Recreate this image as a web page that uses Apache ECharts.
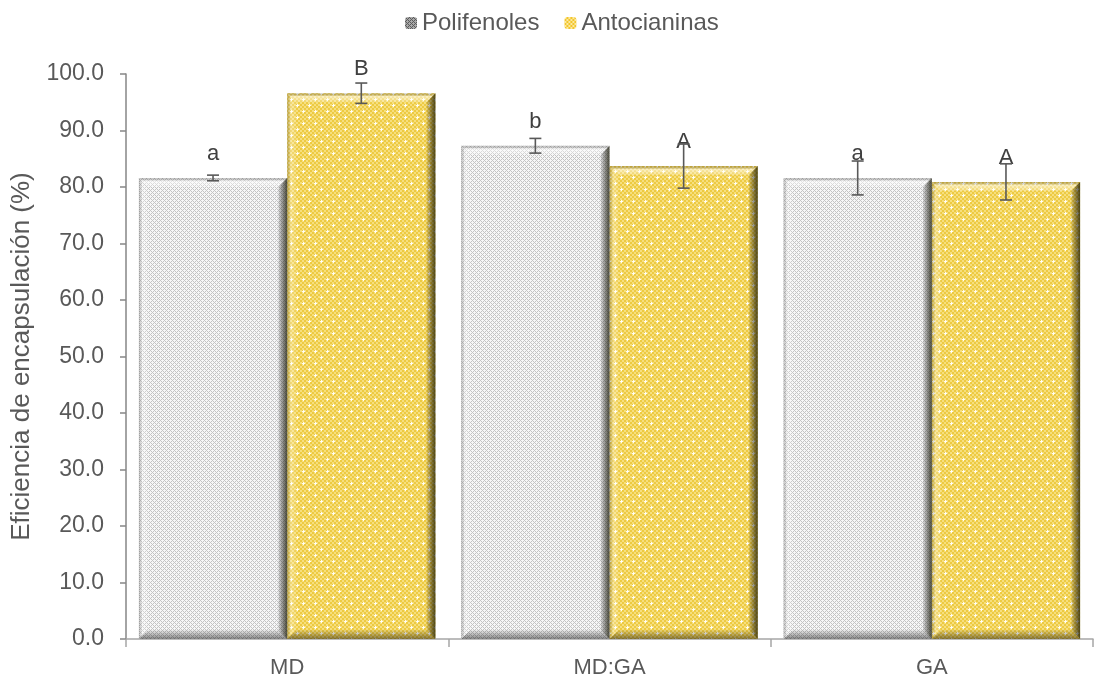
<!DOCTYPE html>
<html>
<head>
<meta charset="utf-8">
<script src="https://cdn.jsdelivr.net/npm/echarts@6/dist/echarts.min.js"></script>
<style>
  html, body { margin: 0; padding: 0; background: #ffffff; }
  #chart { width: 1102px; height: 679px; }
</style>
</head>
<body>
<div id="chart"></div>
<script>
// Encapsulation efficiency by wall material
const categories = ['MD', 'MD:GA', 'GA'];
const seriesNames = ['Polifenoles', 'Antocianinas'];
const polifenoles = [81.6, 87.3, 81.6];
const polifenolesErr = [0.5, 1.3, 3.0];
const polifenolesLetters = ['a', 'b', 'a'];
const antocianinas = [96.6, 83.7, 80.9];
const antocianinasErr = [1.8, 3.9, 3.2];
const antocianinasLetters = ['B', 'A', 'A'];
const yTicks = { min: 0, max: 100, interval: 10 };

const FONT = '"Liberation Sans", Arial, sans-serif';
const CAT_GAP = 0.08;

// Small repeating textures used as bar fills
function makeTile(size, painter) {
  const c = document.createElement('canvas');
  c.width = size; c.height = size;
  const ctx = c.getContext('2d');
  painter(ctx, size);
  return c;
}
function greyPainter(on, off) {
  return (ctx, n) => {
    for (let y = 0; y < n; y++) {
      for (let x = 0; x < n; x++) {
        const hit = ((x + y) % 4 === 0) || (((x - y) % 4 + 4) % 4 === 0);
        ctx.fillStyle = hit ? on : off;
        ctx.fillRect(x, y, 1, 1);
      }
    }
  };
}
const greyTile = makeTile(4, greyPainter('#c4c4c4', '#f7f7f7'));
const greyIconTile = makeTile(4, greyPainter('#5a5a5a', '#a8a8a8'));
const yellowTile = makeTile(12, (ctx, n) => {
  for (let y = 0; y < n; y += 2) {
    for (let x = 0; x < n; x += 2) {
      ctx.fillStyle = ((x + y) / 2) % 2 === 0 ? '#edca42' : '#f6df7e';
      ctx.fillRect(x, y, 2, 2);
    }
  }
  ctx.fillStyle = 'rgba(255,255,255,0.9)';
  [[3, 3], [9, 9]].forEach(([px, py]) => {
    ctx.fillRect(px, py - 1, 1, 3);
    ctx.fillRect(px - 1, py, 3, 1);
  });
});
const yellowIconTile = makeTile(4, (ctx) => {
  ctx.fillStyle = '#f3c52a'; ctx.fillRect(0, 0, 4, 4);
  ctx.fillStyle = '#fbe9a0'; ctx.fillRect(0, 0, 2, 2); ctx.fillRect(2, 2, 2, 2);
});
const fills = [
  { image: greyTile, repeat: 'repeat' },
  { image: yellowTile, repeat: 'repeat' }
];
const iconFills = [
  { image: greyIconTile, repeat: 'repeat' },
  { image: yellowIconTile, repeat: 'repeat' }
];

const values = [polifenoles, antocianinas];
const errors = [polifenolesErr, antocianinasErr];
const letters = [polifenolesLetters, antocianinasLetters];

// Bevel edges and error bars drawn over each bar
const overlayData = [];
values.forEach((arr, s) => arr.forEach((v, i) => overlayData.push([i, v, errors[s][i], s])));

function renderOverlay(params, api) {
  const cat = api.value(0), val = api.value(1), err = api.value(2), s = api.value(3);
  const band = api.size([1, 0])[0];
  const usable = band * (1 - CAT_GAP);
  const barW = usable / 2;
  const top = api.coord([cat, val]);
  const base = api.coord([cat, 0]);
  const x0 = top[0] - usable / 2 + s * barW;
  const x1 = x0 + barW;
  const y0 = top[1], y1 = base[1];
  const b = 9;
  const cx = (x0 + x1) / 2;
  const eTop = api.coord([cat, val + err])[1];
  const eBot = api.coord([cat, val - err])[1];
  const cap = 6;
  const errStyle = { stroke: '#595959', lineWidth: 1.6 };
  return {
    type: 'group',
    children: [
      { type: 'polygon', shape: { points: [[x0, y0], [x1, y0], [x1 - b, y0 + b], [x0 + b, y0 + b]] },
        style: { fill: { type: 'linear', x: 0, y: 0, x2: 0, y2: 1, colorStops: [
          { offset: 0, color: 'rgba(0,0,0,0.18)' }, { offset: 0.35, color: 'rgba(255,255,255,0.55)' }, { offset: 1, color: 'rgba(255,255,255,0.2)' }] } } },
      { type: 'polygon', shape: { points: [[x0, y0], [x0 + b, y0 + b], [x0 + b, y1 - b], [x0, y1]] },
        style: { fill: { type: 'linear', x: 0, y: 0, x2: 1, y2: 0, colorStops: [
          { offset: 0, color: 'rgba(0,0,0,0.22)' }, { offset: 0.4, color: 'rgba(255,255,255,0.3)' }, { offset: 1, color: 'rgba(255,255,255,0.1)' }] } } },
      { type: 'polygon', shape: { points: [[x1, y0], [x1, y1], [x1 - b, y1 - b], [x1 - b, y0 + b]] },
        style: { fill: { type: 'linear', x: 0, y: 0, x2: 1, y2: 0, colorStops: [
          { offset: 0, color: 'rgba(0,0,0,0.08)' }, { offset: 1, color: 'rgba(20,20,0,0.75)' }] } } },
      { type: 'polygon', shape: { points: [[x0, y1], [x1, y1], [x1 - b, y1 - b], [x0 + b, y1 - b]] },
        style: { fill: { type: 'linear', x: 0, y: 0, x2: 0, y2: 1, colorStops: [
          { offset: 0, color: 'rgba(0,0,0,0.05)' }, { offset: 1, color: 'rgba(0,0,0,0.45)' }] } } },
      { type: 'line', shape: { x1: cx, y1: eTop, x2: cx, y2: eBot }, style: errStyle },
      { type: 'line', shape: { x1: cx - cap, y1: eTop, x2: cx + cap, y2: eTop }, style: errStyle },
      { type: 'line', shape: { x1: cx - cap, y1: eBot, x2: cx + cap, y2: eBot }, style: errStyle }
    ]
  };
}

const chart = echarts.init(document.getElementById('chart'));
chart.setOption({
  animation: false,
  textStyle: { fontFamily: FONT },
  legend: {
    data: seriesNames.map((n, s) => ({ name: n, itemStyle: { color: iconFills[s] } })),
    top: 6,
    left: 400,
    itemWidth: 12,
    itemHeight: 12,
    itemGap: 25,
    textStyle: { fontSize: 24, color: '#595959', fontFamily: FONT }
  },
  grid: { left: 126, right: 9, top: 74, bottom: 40, containLabel: false, outerBoundsMode: 'none' },
  xAxis: {
    type: 'category',
    data: categories,
    axisLine: { lineStyle: { color: '#a6a6a6', width: 1.5 } },
    axisTick: { show: true, length: 8, lineStyle: { color: '#a6a6a6', width: 1.5 } },
    axisLabel: { fontSize: 22, color: '#595959', margin: 18, fontFamily: FONT }
  },
  yAxis: {
    type: 'value',
    min: yTicks.min,
    max: yTicks.max,
    interval: yTicks.interval,
    name: 'Eficiencia de encapsulación (%)',
    nameLocation: 'middle',
    nameGap: 91,
    nameTextStyle: { fontSize: 26, color: '#595959', fontFamily: FONT },
    axisLine: { show: true, lineStyle: { color: '#868686', width: 1.5 } },
    axisTick: { show: true, length: 6, lineStyle: { color: '#868686', width: 1.5 } },
    splitLine: { show: false },
    axisLabel: {
      fontSize: 23, color: '#595959', margin: 22, fontFamily: FONT,
      formatter: v => v.toFixed(1)
    }
  },
  series: [
    ...values.map((arr, s) => ({
      name: seriesNames[s],
      type: 'bar',
      data: arr,
      barGap: '0%',
      barCategoryGap: (CAT_GAP * 100) + '%',
      itemStyle: { color: fills[s] },
      label: {
        show: true,
        position: 'top',
        distance: 13,
        fontSize: 22,
        color: '#404040',
        fontFamily: FONT,
        formatter: p => letters[s][p.dataIndex]
      },
      z: 2
    })),
    {
      type: 'custom',
      name: 'overlay',
      silent: true,
      data: overlayData,
      encode: { x: 0, y: 1 },
      renderItem: renderOverlay,
      z: 3
    }
  ]
});
</script>
</body>
</html>
